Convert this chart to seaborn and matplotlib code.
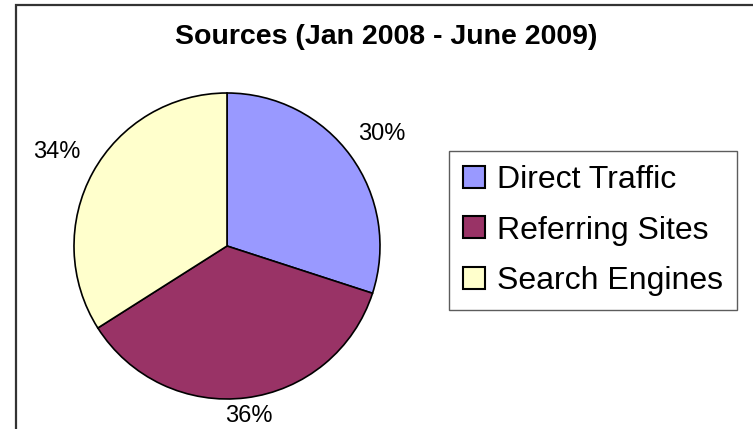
import matplotlib
matplotlib.use('Agg')
import matplotlib.pyplot as plt
import numpy as np
import seaborn as sns

# Data
categories = ['Direct Traffic', 'Referring Sites', 'Search Engines']
shares = [30, 36, 34]
pct_labels = ['30%', '36%', '34%']
title = 'Sources (Jan 2008 - June 2009)'

sns.set_theme(style='white')
plt.rcParams['font.family'] = ['Liberation Sans', 'DejaVu Sans']
plt.rcParams['text.color'] = 'black'

colors = sns.color_palette(['#9999FF', '#993366', '#FFFFCC'])

W, H = 753, 429
fig = plt.figure(figsize=(W / 100, H / 100), dpi=100)
fig.patch.set_facecolor('white')

# pie axes, placed in pixels (center ~ (227, 246), radius ~153)
cx, cy, r = 227, 246, 153
ax = fig.add_axes([(cx - r) / W, (H - cy - r) / H, 2 * r / W, 2 * r / H])

wedges, texts = ax.pie(shares, colors=colors, startangle=90, counterclock=False,
                       labels=pct_labels, labeldistance=1.25,
                       wedgeprops=dict(edgecolor='black', linewidth=1.2),
                       textprops=dict(fontsize=17, color='black'))
ax.set_xlim(-1, 1)
ax.set_ylim(-1, 1)
ax.set_aspect('equal')
ax.axis('off')

# Excel-like label placement: centered text along the wedge's mid angle
label_dist = [1.25, 1.12, 1.27]
for w, t, d in zip(wedges, texts, label_dist):
    mid = np.deg2rad((w.theta1 + w.theta2) / 2)
    t.set_position((d * np.cos(mid), d * np.sin(mid)))
    t.set_ha('center')
    t.set_va('center')
    t.set_clip_on(False)

fig.text(386 / W, 1 - 37 / H, title, ha='center', va='center',
         fontsize=20.5, fontweight='bold', color='black')

leg = fig.legend(wedges, categories, loc='center left',
                 bbox_to_anchor=(449 / W, 1 - 230.5 / H), bbox_transform=fig.transFigure,
                 fontsize=23, frameon=True, fancybox=False, borderaxespad=0,
                 handlelength=0.69, handleheight=0.69, handletextpad=0.35,
                 borderpad=0.45, labelspacing=0.64)
frame = leg.get_frame()
frame.set_edgecolor('#333333')
frame.set_linewidth(1.0)
frame.set_facecolor('white')
for h in leg.legend_handles:
    h.set_edgecolor('black')
    h.set_linewidth(1.5)
for t in leg.get_texts():
    t.set_color('black')

# chart border (only left and top edges are visible in the crop)
border = plt.Rectangle((16 / W, -0.1), 1.2, 1 - 4.5 / H + 0.1, transform=fig.transFigure,
                       fill=False, edgecolor='#333333', linewidth=1.6)
fig.add_artist(border)

fig.savefig('out.png', dpi=100, facecolor='white')
